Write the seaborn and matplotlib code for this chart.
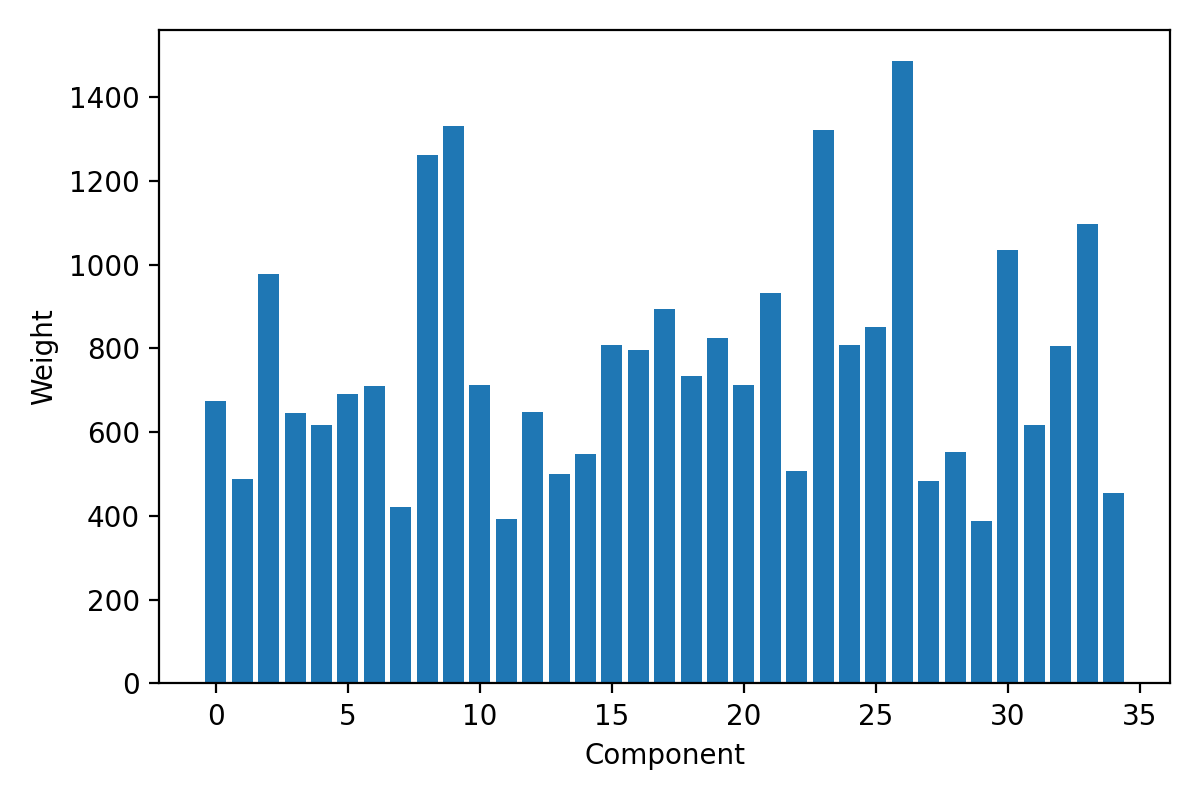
import matplotlib
matplotlib.use('Agg')
import matplotlib.pyplot as plt
import seaborn as sns
import numpy as np

# Component weights
components = list(range(35))
weights = [674, 488, 978, 646, 617, 691, 710, 421, 1262, 1331,
           713, 393, 648, 500, 548, 808, 796, 894, 734, 825,
           713, 932, 507, 1321, 808, 851, 1486, 484, 553, 388,
           1035, 617, 806, 1097, 455]

fig, ax = plt.figure(figsize=(6, 4), dpi=200), plt.gca()

sns.barplot(x=components, y=weights, native_scale=True, color='#1f77b4',
            saturation=1, errorbar=None, width=0.8, ax=ax)

ax.set_xlabel("Component")
ax.set_ylabel("Weight")
ax.set_xticks([0, 5, 10, 15, 20, 25, 30, 35])

plt.tight_layout()
plt.savefig("out.png")
plt.close()
